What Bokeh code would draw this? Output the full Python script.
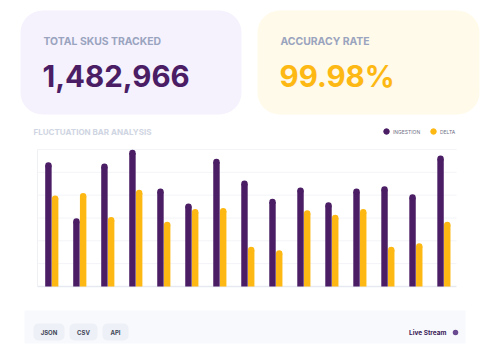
from bokeh.plotting import figure
from bokeh.models import Range1d, BoxAnnotation, ColumnDataSource
from bokeh.transform import dodge
from bokeh.embed import file_html
from bokeh.resources import INLINE
from bokeh.core.properties import value

# ---------------- data ----------------
periods = list(range(15))
ingestion = [106, 57, 105, 117, 83, 70, 109, 90, 74, 84, 71, 83, 85, 78, 112]
delta = [77, 79, 58, 82, 54, 65, 66, 32, 29, 64, 60, 65, 32, 35, 54]
series_names = ["INGESTION", "DELTA"]
kpi_labels = ["TOTAL SKUS TRACKED", "ACCURACY RATE"]
kpi_values = ["1,482,966", "99.98%"]
chart_title = "FLUCTUATION BAR ANALYSIS"
export_buttons = ["JSON", "CSV", "API"]
status_label = "Live Stream"
y_ticks = [0, 20, 40, 60, 80, 100, 120]

PURPLE = "#4a1d64"
AMBER = "#fdb813"
FONT = value("Inter")

W, H = 500, 350
# page canvas in pixel coordinates (y grows downward)
p = figure(width=W, height=H, x_range=Range1d(0, W), y_range=Range1d(H, 0),
           output_backend="svg", toolbar_location=None,
           x_axis_type=None, y_axis_type=None,
           min_border_left=0, min_border_right=0, min_border_top=0, min_border_bottom=0)
p.grid.visible = False
p.outline_line_color = None
p.background_fill_color = "white"
p.border_fill_color = "white"

# chart scales: map the bar-chart plot area (px 37..456 x, 149..286 y) onto the page
X0, X1 = -0.51, 14.45
FX0, FX1 = 37, 456
FY_TOP, FY_BOT = 149, 286
YMAX = y_ticks[-1]
ux = (X1 - X0) / (FX1 - FX0)
uy = YMAX / (FY_BOT - FY_TOP)
xs = X0 - FX0 * ux
ys = 0 - (H - FY_BOT) * uy
p.extra_x_ranges = {"bx": Range1d(xs, xs + W * ux)}
p.extra_y_ranges = {"by": Range1d(ys, ys + H * uy)}

# ---------------- KPI cards ----------------
card_cfg = [(20, 241, "#f5f2fe", PURPLE), (257, 479, "#fffaea", AMBER)]
for (l, r, fill, col), lab, val in zip(card_cfg, kpi_labels, kpi_values):
    p.add_layout(BoxAnnotation(left=l, right=r, top=10, bottom=114, fill_color=fill, fill_alpha=1,
                               line_color=None, border_radius=22, level="underlay"))
    p.text(x=[l + 23], y=[40.5], text=[lab], text_font=FONT, text_font_style="bold",
           text_font_size="10.4px", text_color="#9aa4be", text_baseline="middle")
    p.text(x=[l + 22], y=[75], text=[val], text_font=FONT, text_font_style="bold",
           text_font_size="29.5px", text_color=col, text_baseline="middle")

# ---------------- chart header ----------------
p.text(x=[33], y=[131.5], text=[chart_title], text_font=FONT, text_font_style="bold",
       text_font_size="8px", text_color="#cfd5e2", text_baseline="middle")
for xc, name, col in zip([386, 433], series_names, [PURPLE, AMBER]):
    p.scatter(x=[xc], y=[131], size=5.5, marker="circle", fill_color=col, line_color=col)
    p.text(x=[xc + 6.5], y=[131.5], text=[name], text_font=FONT, text_font_size="5px",
           text_color="#6f6f85", text_baseline="middle")

# ---------------- chart ----------------
grid_src = ColumnDataSource(dict(x0=[X0] * (len(y_ticks) - 1), x1=[X1] * (len(y_ticks) - 1),
                                 y=y_ticks[1:]))
p.segment(x0="x0", x1="x1", y0="y", y1="y", source=grid_src, line_color="#f3f4f8", line_width=1,
          x_range_name="bx", y_range_name="by")
p.segment(x0=[X0], x1=[X0], y0=[0], y1=[YMAX], line_color="#eef0f4", line_width=1,
          x_range_name="bx", y_range_name="by")
p.segment(x0=[X0], x1=[X1], y0=[0], y1=[0], line_color="#e6e9ef", line_width=1.5,
          x_range_name="bx", y_range_name="by")

src = ColumnDataSource(dict(x=periods, ingestion=ingestion, delta=delta))
bw = 0.23
for field, off, col in [("ingestion", -0.12, PURPLE), ("delta", 0.12, AMBER)]:
    xr = p.extra_x_ranges["bx"]
    p.vbar(x=dodge("x", off, range=xr), top=field, width=bw, source=src,
           fill_color=col, line_color=None, x_range_name="bx", y_range_name="by")
    p.scatter(x=dodge("x", off, range=xr), y=field, size=6.4, marker="circle",
              source=src, fill_color=col, line_color=None, x_range_name="bx", y_range_name="by")

# ---------------- bottom toolbar ----------------
p.add_layout(BoxAnnotation(left=24, right=465, top=310, bottom=343, fill_color="#f8f9fc", fill_alpha=1,
                           line_color=None, level="underlay"))
btn_x = [(33, 64), (69, 97), (102, 128)]
for (l, r), lab in zip(btn_x, export_buttons):
    p.add_layout(BoxAnnotation(left=l, right=r, top=323, bottom=340, fill_color="#edf0f6", fill_alpha=1,
                               line_color=None, border_radius=5, level="underlay"))
    p.text(x=[(l + r) / 2], y=[332], text=[lab], text_font=FONT, text_font_style="bold",
           text_font_size="6px", text_color="#3f4658", text_align="center", text_baseline="middle")
p.text(x=[446], y=[332], text=[status_label], text_font=FONT, text_font_style="bold",
       text_font_size="6.5px", text_color="#3a1a58", text_align="right", text_baseline="middle")
p.scatter(x=[455], y=[332], size=5.5, marker="circle", fill_color="#6a4a90", line_color=None)

open("out.html", "w").write(file_html(p, INLINE))
